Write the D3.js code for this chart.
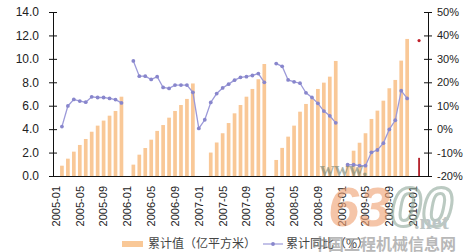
<!DOCTYPE html>
<html>
<head>
<meta charset="utf-8">
<script src="https://cdn.jsdelivr.net/npm/d3@7"></script>
<style>
body { margin: 0; background: #fff; }
svg text { font-family: "Liberation Sans", Arial, sans-serif; fill: #222; }
</style>
</head>
<body>
<script>
var svgWidth = 466;
var svgHeight = 252;

var chartMargin = {
    top: 12,
    right: 38,
    bottom: 76,
    left: 53
};

var chartWidth = svgWidth - chartMargin.left - chartMargin.right;
var chartHeight = svgHeight - chartMargin.top - chartMargin.bottom;

// categories
var years = ["2005", "2006", "2007", "2008", "2009", "2010"];
var monthNames = ["01", "02", "03", "04", "05", "06", "07", "08", "09", "10", "11", "12"];

// 累计值（亿平方米）, one list per year, null = no data
var area2005 = [null, 0.88, 1.48, 2.08, 2.65, 3.16, 3.78, 4.30, 4.73, 5.15, 5.55, 6.77];
var area2006 = [null, 0.97, 1.82, 2.39, 3.10, 3.85, 4.35, 4.98, 5.55, 6.06, 6.58, 7.90];
var area2007 = [null, null, 2.00, 2.86, 3.65, 4.52, 5.35, 6.06, 6.77, 7.43, 8.26, 9.56];
var area2008 = [null, 1.37, 2.40, 3.36, 4.30, 5.49, 6.15, 6.55, 7.43, 7.97, 8.48, 9.82];
var area2009 = [null, 1.00, 2.16, 2.84, 3.65, 4.87, 5.58, 6.43, 7.49, 8.20, 9.85, 11.70];
var area2010 = [null, null, null];

// 累计同比（%）
var growth2005 = [null, 1.1, 9.9, 12.7, 12.0, 11.5, 13.8, 13.5, 13.5, 13.1, 12.6, 11.2];
var growth2006 = [null, 29.1, 22.6, 22.6, 21.2, 22.4, 17.8, 17.4, 18.8, 18.8, 18.8, 15.7];
var growth2007 = [0.3, 4.0, 11.4, 15.2, 17.6, 19.2, 20.9, 22.1, 22.4, 22.9, 23.7, 20.0];
var growth2008 = [null, 28.0, 26.8, 21.0, 20.2, 19.6, 15.5, 13.5, 11.0, 7.7, 5.7, 2.7];
var growth2009 = [null, -15.2, -15.2, -15.6, -15.6, -9.9, -8.9, -6.0, -0.1, 3.8, 16.4, 13.1];
var growth2010 = [null, null, null];

// latest month, drawn in red
var latestMonth = "2010-02";
var latestArea = 1.55;
var latestGrowth = 37.8;

var leftTicks = [0, 2, 4, 6, 8, 10, 12, 14];
var rightTicks = [-20, -10, 0, 10, 20, 30, 40, 50];
var xTickLabels = ["2005-01", "2005-05", "2005-09", "2006-01", "2006-05", "2006-09",
    "2007-01", "2007-05", "2007-09", "2008-01", "2008-05", "2008-09",
    "2009-01", "2009-05", "2009-09", "2010-01"];
var legendLabels = ["累计值（亿平方米）", "累计同比（%）"];

var areaValues = [].concat(area2005, area2006, area2007, area2008, area2009, area2010);
var growthValues = [].concat(growth2005, growth2006, growth2007, growth2008, growth2009, growth2010);

var months = [];
years.forEach(function(y) {
    monthNames.forEach(function(m) { months.push(y + "-" + m); });
});
months = months.slice(0, areaValues.length);

var data = months.map(function(m, i) {
    return { month: m, area: areaValues[i], growth: growthValues[i] };
});

var svg = d3.select("body").append("svg")
    .attr("width", svgWidth)
    .attr("height", svgHeight);

var chartGroup = svg.append("g")
    .attr("transform", `translate(${chartMargin.left}, ${chartMargin.top})`);

// scales
var xScale = d3.scaleBand()
    .domain(months)
    .range([0, chartWidth])
    .paddingInner(0.38)
    .paddingOuter(0.19);

var yLeft = d3.scaleLinear().domain([0, 14]).range([chartHeight, 0]);
var yRight = d3.scaleLinear().domain([-20, 50]).range([chartHeight, 0]);

// bars
chartGroup.selectAll(".bar")
    .data(data.filter(function(d) { return d.area != null; }))
    .enter()
    .append("rect")
    .attr("class", "bar")
    .attr("x", function(d) { return xScale(d.month); })
    .attr("y", function(d) { return yLeft(d.area); })
    .attr("width", xScale.bandwidth())
    .attr("height", function(d) { return chartHeight - yLeft(d.area); })
    .style("fill", "#f9c897");

// latest month bar (thin, red)
var cx = function(m) { return xScale(m) + xScale.bandwidth() / 2; };
chartGroup.append("rect")
    .attr("x", cx(latestMonth) - 0.9)
    .attr("y", yLeft(latestArea))
    .attr("width", 1.8)
    .attr("height", chartHeight - yLeft(latestArea))
    .style("fill", "#b4202a");

// growth line
var line = d3.line()
    .defined(function(d) { return d.growth != null; })
    .x(function(d) { return cx(d.month); })
    .y(function(d) { return yRight(d.growth); });

chartGroup.append("path")
    .datum(data)
    .attr("d", line)
    .attr("fill", "none")
    .attr("stroke", "#9c9ad9")
    .attr("stroke-width", 1.3);

chartGroup.selectAll(".dot")
    .data(data.filter(function(d) { return d.growth != null; }))
    .enter()
    .append("circle")
    .attr("cx", function(d) { return cx(d.month); })
    .attr("cy", function(d) { return yRight(d.growth); })
    .attr("r", 1.9)
    .style("fill", "#8886cc");

chartGroup.append("circle")
    .attr("cx", cx(latestMonth))
    .attr("cy", yRight(latestGrowth))
    .attr("r", 1.6)
    .style("fill", "#c0202a");

// axes
var leftAxis = chartGroup.append("g")
    .call(d3.axisLeft(yLeft).tickValues(leftTicks).tickFormat(d3.format(".1f"))
        .tickSize(4).tickSizeOuter(0).tickPadding(10));
leftAxis.selectAll(".tick line").attr("x1", 4);
leftAxis.selectAll("text").style("font-size", "12px");

var rightAxis = chartGroup.append("g")
    .attr("transform", `translate(${chartWidth}, 0)`)
    .call(d3.axisRight(yRight).tickValues(rightTicks).tickFormat(function(d) { return d + "%"; })
        .tickSize(4).tickSizeOuter(0).tickPadding(5));
rightAxis.selectAll(".tick line").attr("x1", -4);
rightAxis.selectAll("text").style("font-size", "11px");

var bottomAxis = chartGroup.append("g")
    .attr("transform", `translate(0, ${chartHeight})`)
    .call(d3.axisBottom(xScale).tickValues(xTickLabels).tickSize(0).tickSizeOuter(0));
bottomAxis.selectAll("text")
    .attr("transform", "rotate(-90)")
    .attr("x", -10)
    .attr("y", 0)
    .attr("dy", "0.35em")
    .style("text-anchor", "end")
    .style("font-size", "11px");

svg.selectAll(".domain, .tick line").attr("stroke", "#111");

// legend
var legend = svg.append("g");
legend.append("rect")
    .attr("x", 122).attr("y", 241)
    .attr("width", 21).attr("height", 6)
    .style("fill", "#f9c897");
legend.append("text")
    .attr("x", 148).attr("y", 248)
    .style("font-family", "'Noto Sans CJK SC', sans-serif")
    .style("font-size", "12px")
    .style("fill", "#444")
    .text(legendLabels[0]);
legend.append("line")
    .attr("x1", 263).attr("x2", 283)
    .attr("y1", 244).attr("y2", 244)
    .attr("stroke", "#9c9ad9").attr("stroke-width", 1.2);
legend.append("circle")
    .attr("cx", 273).attr("cy", 244).attr("r", 1.9)
    .style("fill", "#8886cc");
legend.append("text")
    .attr("x", 286).attr("y", 248)
    .style("font-family", "'Noto Sans CJK SC', sans-serif")
    .style("font-size", "12px")
    .style("fill", "#444")
    .text(legendLabels[1]);

// site watermark
var mark = svg.append("g").style("opacity", 0.6);
mark.append("text")
    .attr("x", 320).attr("y", 176)
    .style("font-family", "'Liberation Serif', serif")
    .style("font-size", "20px").style("font-weight", "bold")
    .style("fill", "#6f7f70")
    .text("www.");
var logo = mark.append("text")
    .attr("x", 328).attr("y", 226)
    .style("font-family", "'Liberation Sans', sans-serif")
    .style("font-size", "56px").style("font-weight", "bold").style("font-style", "italic");
logo.append("tspan").style("fill", "#f0a070").text("63");
logo.append("tspan").style("fill", "none").style("stroke", "#8fa89a").style("stroke-width", 3).text("00");
mark.append("text")
    .attr("x", 414).attr("y", 229)
    .style("font-family", "'Liberation Serif', serif")
    .style("font-size", "22px").style("font-weight", "bold")
    .style("fill", "#90a0a0")
    .text(".net");
mark.append("text")
    .attr("x", 312).attr("y", 250)
    .style("font-family", "'Noto Sans CJK SC', sans-serif")
    .style("font-size", "16px").style("font-weight", "bold")
    .style("fill", "#8a8a8a")
    .text("中国工程机械信息网");
</script>
</body>
</html>
